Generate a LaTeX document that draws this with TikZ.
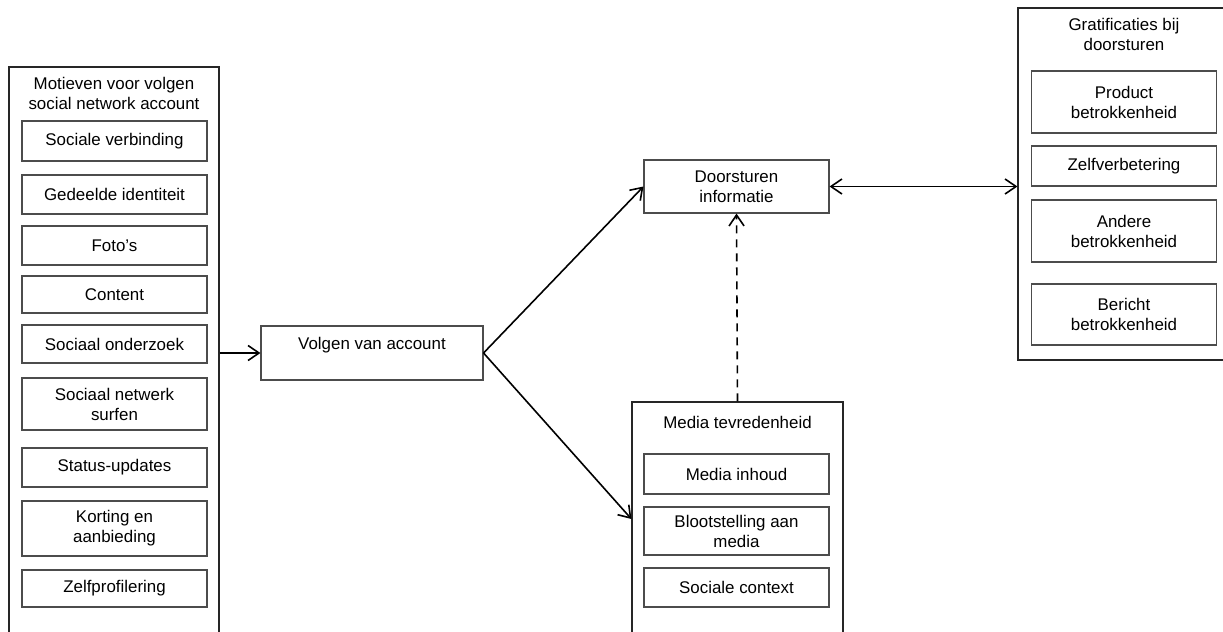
\documentclass[tikz,border=0pt]{standalone}
\usepackage{fontspec}
\setmainfont{Liberation Sans}
\usetikzlibrary{positioning,fit,arrows.meta}

\begin{document}
\begin{tikzpicture}[x=0.5pt, y=-0.5pt,
    font=\fontsize{8.45}{10}\selectfont,
    >={Straight Barb[length=5.5pt,width=7.5pt]},
    groupbox/.style={draw=black!85, line width=0.55pt, inner sep=0pt},
    grouptitle/.style={align=center, inner sep=0pt},
    itembox/.style={draw=black!70, line width=0.55pt, align=center, minimum width=92.5pt, inner sep=0pt},
    conn/.style={line width=0.8pt, ->}]
    % frame of the picture
    \useasboundingbox (0,0) rectangle (1223,632);
    \clip (0,0) rectangle (1223,632);
    % Motives (left column)
    \node[groupbox, fit={(9,67) (219,650)}] (motieven) {};
    \node[grouptitle, below=5pt of motieven.north] (motievenlabel) {Motieven voor volgen\\social network account};
    \node[itembox, minimum height=20pt] (verbinding) at (114.5,141) {Sociale verbinding};
    \node[itembox, minimum height=19.5pt] (identiteit) at (114.5,194.5) {Gedeelde identiteit};
    \node[itembox, minimum height=19.5pt] (fotos) at (114.5,245.5) {Foto’s};
    \node[itembox, minimum height=18.5pt] (content) at (114.5,294.5) {Content};
    \node[itembox, minimum height=19pt] (onderzoek) at (114.5,344) {Sociaal onderzoek};
    \node[itembox, minimum height=26pt] (surfen) at (114.5,404) {Sociaal netwerk\\surfen};
    \node[itembox, minimum height=19.5pt] (status) at (114.5,467.5) {Status-updates};
    \node[itembox, minimum height=27.5pt] (korting) at (114.5,528.5) {Korting en\\aanbieding};
    \node[itembox, minimum height=18.5pt] (profilering) at (114.5,588.5) {Zelfprofilering};
    % Following the account
    \node[itembox, minimum width=111pt, minimum height=27pt] (volgen) at (372,353) {Volgen van account\\\mbox{}};
    % Forwarding
    \node[itembox, minimum height=26.5pt] (doorsturen) at (736.5,186.5) {Doorsturen\\informatie};
    % Media satisfaction
    \node[groupbox, fit={(632,402) (843,636)}] (media) {};
    \node[grouptitle, below=7pt of media.north] (medialabel) {Media tevredenheid};
    \node[itembox, minimum height=20pt] (inhoud) at (736.5,474) {Media inhoud};
    \node[itembox, minimum height=24pt] (blootstelling) at (736.5,531) {Blootstelling aan\\media};
    \node[itembox, minimum height=19.5pt] (context) at (736.5,587.5) {Sociale context};
    % Gratifications (right column)
    \node[groupbox, fit={(1018,8) (1300,360)}] (gratificaties) {};
    \node[itembox, minimum height=31pt] (product) at (1124,102) {Product\\betrokkenheid};
    \node[itembox, minimum height=20pt] (verbetering) at (1124,166) {Zelfverbetering};
    \node[itembox, minimum height=31pt] (andere) at (1124,231) {Andere\\betrokkenheid};
    \node[itembox, minimum height=30.5pt] (bericht) at (1124,314.5) {Bericht\\betrokkenheid};
    \coordinate (gratificatiestop) at (product.north |- gratificaties.north);
    \node[grouptitle, below=5pt of gratificatiestop] (gratificatieslabel) {Gratificaties bij\\doorsturen};
    % Connectors
    \draw[conn] (motieven.east |- volgen.west) -- (volgen.west);
    \draw[conn] (volgen.east) -- (doorsturen.west);
    \draw[conn] (volgen.east) -- (media.west);
    \draw[conn, dash pattern=on 4pt off 3pt] (media.north) -- (doorsturen.south);
    \draw[conn, <->] (doorsturen.east) -- (gratificaties.west |- doorsturen.east);
\end{tikzpicture}
\end{document}
